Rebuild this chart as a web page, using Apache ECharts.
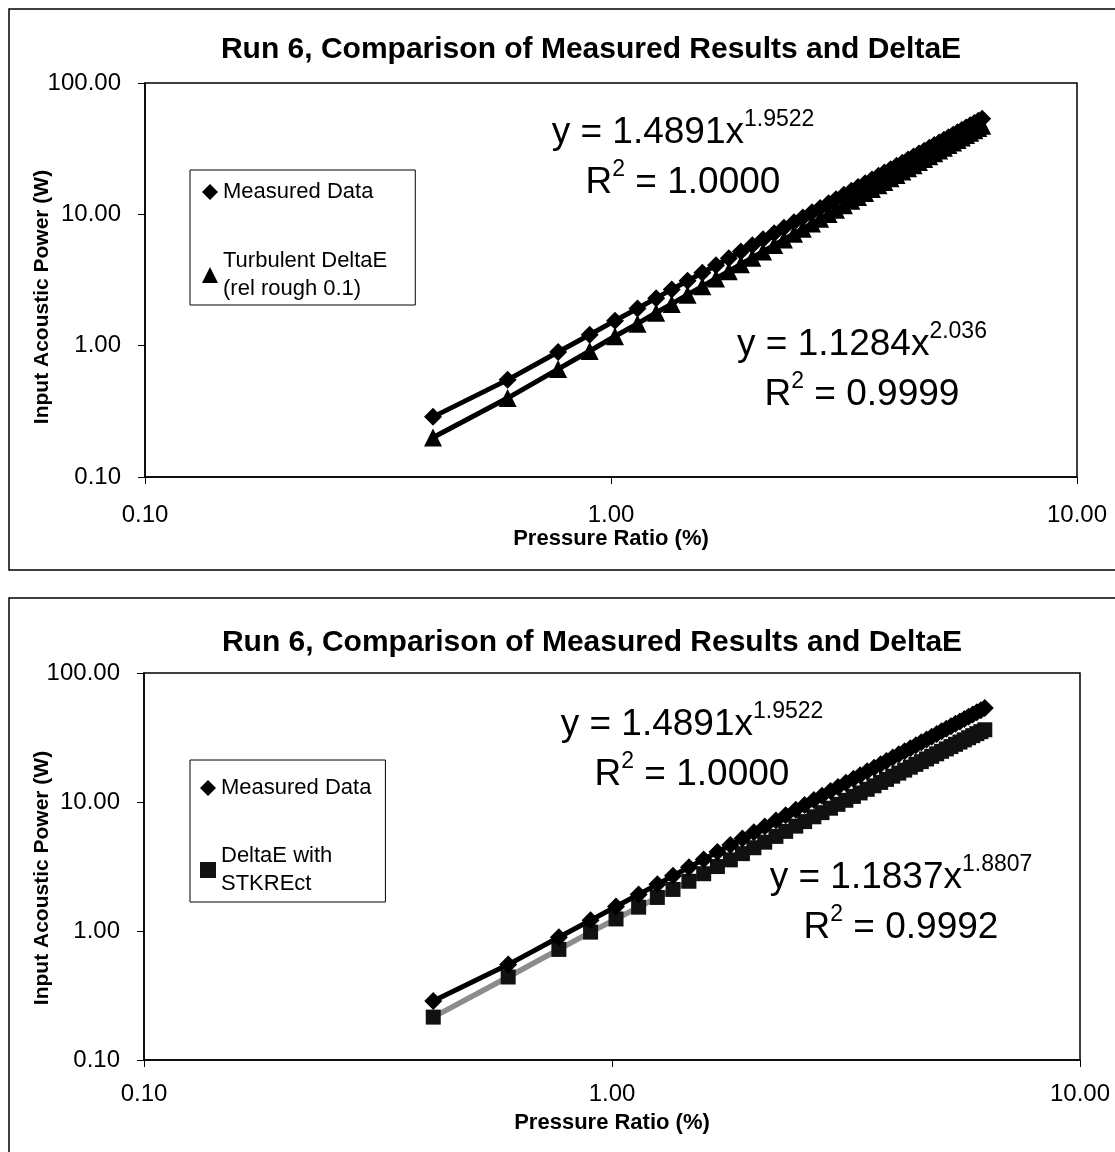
<!DOCTYPE html>
<html>
<head>
<meta charset="utf-8">
<script src="https://cdn.jsdelivr.net/npm/echarts@6/dist/echarts.min.js"></script>
<style>
  html, body { margin: 0; padding: 0; background: #fff; }
  #chart { width: 1115px; height: 1152px; }
</style>
</head>
<body>
<div id="chart"></div>
<script>
// pressure ratio (%) for each run point, shared by all series
var pressureRatio = [0.415, 0.60, 0.77, 0.90, 1.02, 1.14, 1.25, 1.35, 1.46, 1.57,
  1.68, 1.79, 1.90, 2.01, 2.12, 2.24, 2.35, 2.47, 2.58, 2.70,
  2.81, 2.93, 3.04, 3.16, 3.28, 3.39, 3.51, 3.63, 3.75, 3.86,
  3.98, 4.10, 4.22, 4.34, 4.46, 4.58, 4.70, 4.82, 4.94, 5.06,
  5.18, 5.30, 5.42, 5.54, 5.66, 5.78, 5.90, 6.02, 6.14, 6.26];

// input acoustic power (W)
var measured = [0.287, 0.549, 0.894, 1.21, 1.55, 1.92, 2.30, 2.68, 3.12, 3.59,
  4.10, 4.64, 5.21, 5.82, 6.46, 7.19, 7.90, 8.70, 9.47, 10.35,
  11.19, 12.15, 13.05, 14.07, 15.14, 16.14, 17.28, 18.45, 19.66, 20.80,
  22.08, 23.40, 24.75, 26.15, 27.57, 29.05, 30.55, 32.09, 33.67, 35.28,
  36.93, 38.62, 40.35, 42.11, 43.90, 45.75, 47.62, 49.53, 51.48, 53.46];

var turbulent = [0.200, 0.399, 0.663, 0.911, 1.18, 1.47, 1.78, 2.08, 2.44, 2.83,
  3.25, 3.69, 4.17, 4.68, 5.21, 5.83, 6.43, 7.11, 7.77, 8.53,
  9.25, 10.07, 10.85, 11.75, 12.67, 13.55, 14.55, 15.57, 16.64, 17.65,
  18.79, 19.96, 21.16, 22.41, 23.68, 25.01, 26.36, 27.74, 29.17, 30.63,
  32.12, 33.65, 35.22, 36.83, 38.47, 40.16, 41.87, 43.62, 45.40, 47.23];

var stkrect = [0.215, 0.44, 0.72, 0.98, 1.24, 1.53, 1.82, 2.10, 2.43, 2.78,
  3.16, 3.56, 3.98, 4.42, 4.88, 5.41, 5.92, 6.50, 7.05, 7.68,
  8.27, 8.95, 9.59, 10.31, 11.05, 11.76, 12.54, 13.35, 14.19, 14.97,
  15.85, 16.75, 17.67, 18.62, 19.58, 20.56, 21.56, 22.59, 23.63, 24.70,
  25.79, 26.89, 28.01, 29.15, 30.31, 31.49, 32.68, 33.89, 35.10, 36.30];

var titleText = 'Run 6, Comparison of Measured Results and DeltaE';
var yName = 'Input Acoustic Power (W)';
var fontName = '"Liberation Sans", Arial, Helvetica, sans-serif';

function pairs(ys) {
  return pressureRatio.map(function (x, i) { return [x, ys[i]]; });
}

function fmt(v) { return v.toFixed(2); }

function xAxisFor(idx, gap, margin) {
  return {
    type: 'log', logBase: 10, gridIndex: idx, min: 0.1, max: 10,
    name: 'Pressure Ratio (%)', nameLocation: 'middle', nameGap: gap,
    nameTextStyle: { fontFamily: fontName, fontWeight: 'bold', fontSize: 22, color: '#000' },
    axisLine: { onZero: false, lineStyle: { color: '#000', width: 1.5 } },
    axisTick: { show: true, inside: false, length: 7, lineStyle: { color: '#000' } },
    axisLabel: { formatter: fmt, fontFamily: fontName, fontSize: 24, color: '#000', margin: margin },
    splitLine: { show: false },
    minorTick: { show: false }
  };
}

function yAxisFor(idx) {
  return {
    type: 'log', logBase: 10, gridIndex: idx, min: 0.1, max: 100,
    axisLine: { onZero: false, lineStyle: { color: '#000', width: 1.5 } },
    axisTick: { show: true, inside: false, length: 7, lineStyle: { color: '#000' } },
    axisLabel: { formatter: fmt, fontFamily: fontName, fontSize: 24, color: '#000', margin: 24 },
    splitLine: { show: false }
  };
}

// rotated y axis title, placed like the original
function yTitle(cy) {
  return {
    type: 'text', x: 42, y: cy, rotation: Math.PI / 2, z: 100,
    style: {
      text: yName, align: 'center', verticalAlign: 'middle',
      textAlign: 'center', textVerticalAlign: 'middle',
      fontFamily: fontName, fontWeight: 'bold', fontSize: 21, fill: '#000'
    }
  };
}

// trendline equation blocks (y = a x^b, R^2)
function eqText(cx, top, coef, expo, r2) {
  return {
    type: 'text', x: cx, y: top, z: 100,
    style: {
      text: '{b|y = ' + coef + 'x}{s|' + expo + '}\n{b|R}{s|2}{b| = ' + r2 + '}',
      align: 'center', textAlign: 'center',
      fill: '#000',
      rich: {
        b: { fontFamily: fontName, fontSize: 37, lineHeight: 50, color: '#000' },
        s: { fontFamily: fontName, fontSize: 23, lineHeight: 50, verticalAlign: 'top', color: '#000' }
      }
    }
  };
}

var legendBase = {
  orient: 'vertical', itemWidth: 16, itemHeight: 16,
  backgroundColor: '#fff', borderColor: '#000', borderWidth: 1,
  textStyle: { fontFamily: fontName, fontSize: 22, color: '#000', lineHeight: 28 },
  selectedMode: false
};

var chart = echarts.init(document.getElementById('chart'));

var option = {
  backgroundColor: '#fff',
  animation: false,
  title: [
    { text: titleText, left: 586, top: 30, textAlign: 'center',
      textStyle: { fontFamily: fontName, fontWeight: 'bold', fontSize: 30, color: '#000' } },
    { text: titleText, left: 587, top: 623, textAlign: 'center',
      textStyle: { fontFamily: fontName, fontWeight: 'bold', fontSize: 30, color: '#000' } }
  ],
  grid: [
    { left: 145, top: 83, width: 932, height: 394, show: true, borderColor: '#000', borderWidth: 1.5, backgroundColor: '#fff' },
    { left: 144, top: 673, width: 936, height: 387, show: true, borderColor: '#000', borderWidth: 1.5, backgroundColor: '#fff' }
  ],
  xAxis: [xAxisFor(0, 50, 26), xAxisFor(1, 52, 22)],
  yAxis: [yAxisFor(0), yAxisFor(1)],
  legend: [
    Object.assign({}, legendBase, {
      left: 190, top: 170, padding: [8, 28, 2, 12], itemGap: 41,
      data: [{ name: 'Measured Data', icon: 'diamond' }, { name: 'Turbulent DeltaE', icon: 'triangle' }],
      formatter: function (n) { return n === 'Turbulent DeltaE' ? 'Turbulent DeltaE\n(rel rough 0.1)' : n; }
    }),
    Object.assign({}, legendBase, {
      left: 190, top: 760, padding: [14, 14, 4, 10], itemGap: 40,
      data: [{ name: 'Measured Data', icon: 'diamond' }, { name: 'DeltaE with STKREct', icon: 'rect' }],
      formatter: function (n) { return n === 'DeltaE with STKREct' ? 'DeltaE with\nSTKREct' : n; }
    })
  ],
  graphic: [
    { type: 'rect', shape: { x: 9, y: 9, width: 1120, height: 561 }, style: { fill: 'none', stroke: '#000', lineWidth: 1.5 }, z: -1 },
    { type: 'rect', shape: { x: 9, y: 598, width: 1120, height: 560 }, style: { fill: 'none', stroke: '#000', lineWidth: 1.5 }, z: -1 },
    yTitle(297),
    yTitle(878),
    eqText(683, 108, '1.4891', '1.9522', '1.0000'),
    eqText(862, 320, '1.1284', '2.036', '0.9999'),
    eqText(692, 700, '1.4891', '1.9522', '1.0000'),
    eqText(901, 853, '1.1837', '1.8807', '0.9992')
  ],
  series: [
    {
      name: 'Turbulent DeltaE', type: 'line', xAxisIndex: 0, yAxisIndex: 0,
      data: pairs(turbulent), symbol: 'triangle', symbolSize: 18,
      itemStyle: { color: '#000' }, lineStyle: { color: '#000', width: 5 }, z: 2
    },
    {
      name: 'Measured Data', type: 'line', xAxisIndex: 0, yAxisIndex: 0,
      data: pairs(measured), symbol: 'diamond', symbolSize: 18,
      itemStyle: { color: '#000' }, lineStyle: { color: '#000', width: 5 }, z: 3
    },
    {
      name: 'DeltaE with STKREct', type: 'line', xAxisIndex: 1, yAxisIndex: 1,
      data: pairs(stkrect), symbol: 'rect', symbolSize: 15,
      itemStyle: { color: '#111' }, lineStyle: { color: '#8c8c8c', width: 5.5 }, z: 2
    },
    {
      name: 'Measured Data', type: 'line', xAxisIndex: 1, yAxisIndex: 1,
      data: pairs(measured), symbol: 'diamond', symbolSize: 18,
      itemStyle: { color: '#000' }, lineStyle: { color: '#000', width: 5 }, z: 3
    }
  ]
};

chart.setOption(option);
</script>
</body>
</html>
